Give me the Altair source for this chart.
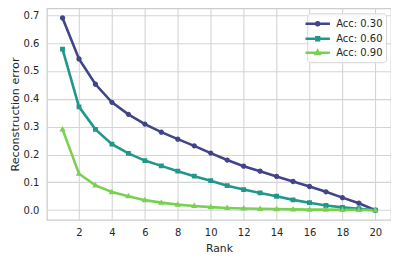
import altair as alt
import pandas as pd

ranks = list(range(1, 21))
acc30 = [0.690, 0.543, 0.452, 0.387, 0.344, 0.309, 0.280, 0.255, 0.231, 0.205,
         0.180, 0.158, 0.140, 0.121, 0.103, 0.085, 0.066, 0.045, 0.025, 0.0]
acc60 = [0.578, 0.371, 0.290, 0.237, 0.204, 0.178, 0.159, 0.140, 0.122, 0.106,
         0.088, 0.074, 0.062, 0.050, 0.037, 0.027, 0.017, 0.010, 0.005, 0.0]
acc90 = [0.290, 0.131, 0.089, 0.065, 0.050, 0.036, 0.027, 0.020, 0.015, 0.011,
         0.008, 0.006, 0.005, 0.004, 0.003, 0.002, 0.002, 0.001, 0.001, 0.0]
series_names = ["Acc: 0.30", "Acc: 0.60", "Acc: 0.90"]
colors = ["#414487", "#21968b", "#7ad151"]
x_ticks = list(range(2, 21, 2))
y_ticks = [0.0, 0.1, 0.2, 0.3, 0.4, 0.5, 0.6, 0.7]

rows = []
for name, vals in zip(series_names, [acc30, acc60, acc90]):
    for r, v in zip(ranks, vals):
        rows.append({"Rank": r, "err": v, "series": name})
df = pd.DataFrame(rows)

# marker glyph plus a horizontal stroke (the stroke only shows in the legend)
shape_paths = [
    "M-2,0H2M-0.25,0A0.25,0.25,0,1,1,0.25,0A0.25,0.25,0,1,1,-0.25,0Z",
    "M-2,0H2M-0.23,-0.23H0.23V0.23H-0.23Z",
    "M-2,0H2M0,-0.32L0.3,0.2L-0.3,0.2Z",
]

x = alt.X("Rank:Q", title="Rank",
          scale=alt.Scale(domain=[0.05, 20.95], nice=False, zero=False),
          axis=alt.Axis(values=x_ticks, format="d", titleFontSize=10.8))
y = alt.Y("err:Q", title="Reconstruction error",
          scale=alt.Scale(domain=[-0.0345, 0.7245], nice=False, zero=False),
          axis=alt.Axis(values=y_ticks, format=".1f", titleFontSize=11.2))

lines = alt.Chart(df).mark_line(strokeWidth=2.6).encode(
    x=x, y=y,
    color=alt.Color("series:N", scale=alt.Scale(domain=series_names, range=colors), title=None,
                    legend=alt.Legend(
                        orient="top-right", offset=5,
                        symbolType="stroke", symbolSize=150, symbolStrokeWidth=2.5,
                        labelFontSize=10, labelColor="#262626",
                        labelFont="DejaVu Sans", rowPadding=0,
                        padding=3, fillColor="rgba(255,255,255,0.8)",
                        strokeColor="#d6d6d6", cornerRadius=3,
                        labelOffset=11)),
)
points = alt.Chart(df).mark_point(filled=False, size=450, strokeWidth=0, opacity=1).encode(
    x=x, y=y,
    fill=alt.Fill("series:N", scale=alt.Scale(domain=series_names, range=colors), legend=None),
    shape=alt.Shape("series:N", scale=alt.Scale(domain=series_names, range=shape_paths), legend=None),
)

chart = alt.layer(lines, points).properties(
    width=345, height=212,
    padding={"left": 39, "top": 0, "right": 0, "bottom": 50},
    autosize=alt.AutoSizeParams(type="none"),
).configure_view(
    stroke="#cccccc", strokeWidth=1.25
).configure_axis(
    grid=True, gridColor="#d4d4d4", gridWidth=1.1, domain=False,
    ticks=False, labelPadding=9, labelFontSize=10, labelColor="#262626",
    labelFont="DejaVu Sans", titleFont="DejaVu Sans",
    titleFontWeight="normal", titleColor="#262626",
).configure_axisY(titlePadding=3, labelPadding=8).configure_axisX(titlePadding=5, labelPadding=8)

chart.save("out.html", embed_options={"renderer": "svg", "actions": False})
